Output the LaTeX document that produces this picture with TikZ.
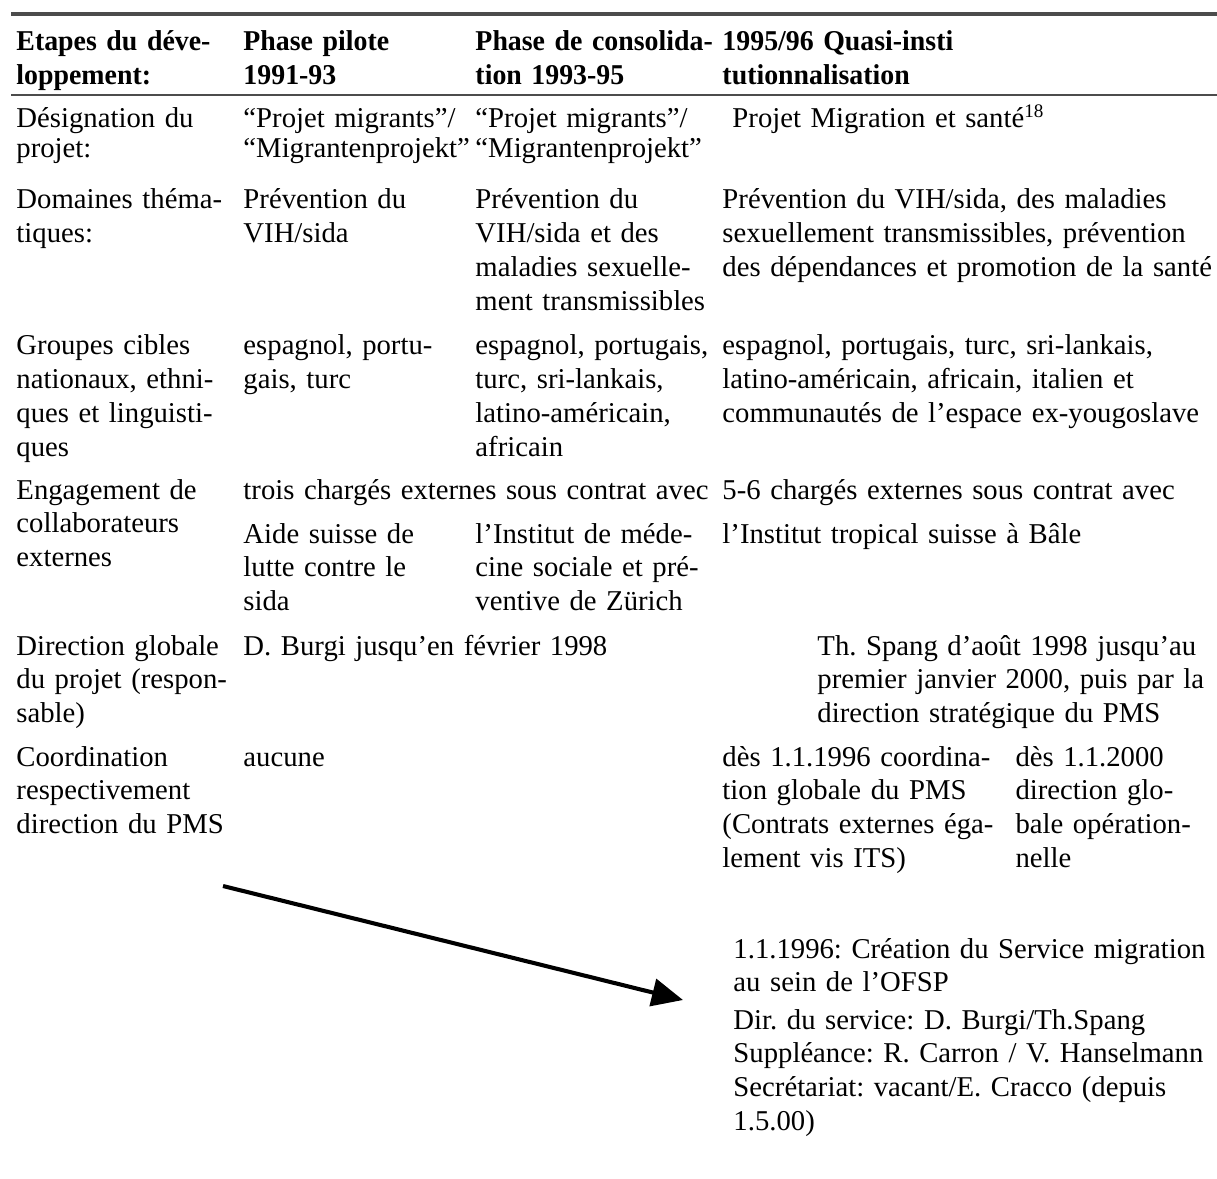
\documentclass[tikz,border=0pt]{standalone}
\usepackage{fontspec}
\setmainfont{Liberation Serif}
\newfontface\headfont{Liberation Serif Bold}[FakeStretch=0.97]
\usepackage{xcolor}
\usetikzlibrary{arrows.meta}
\frenchspacing

\begin{document}
\begin{tikzpicture}[x=0.418pt, y=-0.418pt, >={Triangle[length=13pt, width=11.5pt]},
    every node/.style={anchor=base west, inner sep=0pt, align=left, font=\fontsize{12}{14.1}\selectfont},
    headcell/.style={font=\fontsize{12}{13.8}\headfont},
    tightcell/.style={font=\fontsize{12}{12.5}\selectfont},
    tabrule/.style={draw=black!70}]
    \useasboundingbox (0,0) rectangle (1217,1178);
    \draw[tabrule, line width=1.7pt] (11,14) -- (1217,14);
    \draw[tabrule, line width=1pt] (11,95) -- (1217,95);

    \node[headcell, text width=94pt] (etapes) at (16,51) {Etapes du déve-\\loppement:};
    \node[headcell, text width=98pt] (pilote) at (243,51) {Phase pilote\\1991-93};
    \node[headcell, text width=110pt] (consolidation) at (475,51) {Phase de consolida-\\tion 1993-95};
    \node[headcell, text width=200pt] (quasi) at (722,51) {1995/96 Quasi-insti\\tutionnalisation};

    \node[tightcell, text width=94pt] (designation) at (16,128) {Désignation du\\projet:};
    \node[tightcell, text width=98pt] (nomA) at (243,128) {“Projet migrants”/\\“Migrantenprojekt”};
    \node[tightcell, text width=100pt] (nomB) at (475,128) {“Projet migrants”/\\“Migrantenprojekt”};
    \node[text width=200pt] (nomC) at (732,128) {Projet Migration et santé\textsuperscript{18}};

    \node[text width=94pt] (domaines) at (16,209) {Domaines théma-\\tiques:};
    \node[text width=98pt] (themeA) at (243,209) {Prévention du\\VIH/sida};
    \node[text width=100pt] (themeB) at (475,209) {Prévention du\\VIH/sida et des\\maladies sexuelle-\\ment transmissibles};
    \node[text width=210pt] (themeC) at (722,209) {Prévention du VIH/sida, des maladies\\sexuellement transmissibles, prévention\\des dépendances et promotion de la santé};

    \node[text width=94pt] (groupes) at (16,355) {Groupes cibles\\nationaux, ethni-\\ques et linguisti-\\ques};
    \node[text width=98pt] (cibleA) at (243,355) {espagnol, portu-\\gais, turc};
    \node[text width=100pt] (cibleB) at (475,355) {espagnol, portugais,\\turc, sri-lankais,\\latino-américain,\\africain};
    \node[text width=210pt] (cibleC) at (722,355) {espagnol, portugais, turc, sri-lankais,\\latino-américain, africain, italien et\\communautés de l’espace ex-yougoslave};

    \node[text width=94pt] (engagement) at (16,499) {Engagement de\\collaborateurs\\externes};
    \node[text width=200pt] (contratA) at (243,499) {trois chargés externes sous contrat avec};
    \node[text width=200pt] (contratB) at (722,499) {5-6 chargés externes sous contrat avec};
    \node[text width=98pt] (aide) at (243,543) {Aide suisse de\\lutte contre le\\sida};
    \node[text width=100pt] (institut) at (475,543) {l’Institut de méde-\\cine sociale et pré-\\ventive de Zürich};
    \node[text width=200pt] (tropical) at (722,543) {l’Institut tropical suisse à Bâle};

    \node[text width=94pt] (direction) at (16,655) {Direction globale\\du projet (respon-\\sable)};
    \node[text width=200pt] (burgi) at (243,655) {D. Burgi jusqu’en février 1998};
    \node[text width=170pt] (spang) at (817,655) {Th. Spang d’août 1998 jusqu’au\\premier janvier 2000, puis par la\\direction stratégique du PMS};

    \node[text width=94pt] (coordination) at (16,766) {Coordination\\respectivement\\direction du PMS};
    \node[text width=98pt] (aucune) at (243,766) {aucune};
    \node[text width=120pt] (coordA) at (722,766) {dès 1.1.1996 coordina-\\tion globale du PMS\\(Contrats externes éga-\\lement vis ITS)};
    \node[text width=80pt] (coordB) at (1015,766) {dès 1.1.2000\\direction glo-\\bale opération-\\nelle};

    \node[text width=200pt] (creation) at (733,958) {1.1.1996: Création du Service migration\\au sein de l’OFSP};
    \node[text width=200pt] (staff) at (733,1029) {Dir. du service: D. Burgi/Th.Spang\\Suppléance: R. Carron / V. Hanselmann\\Secrétariat: vacant/E. Cracco (depuis\\1.5.00)};

    \coordinate (tail) at (223,886);
    \coordinate (tip) at (683,1000);
    \draw[->, line width=1.7pt] (tail) -- (tip);
\end{tikzpicture}
\end{document}
